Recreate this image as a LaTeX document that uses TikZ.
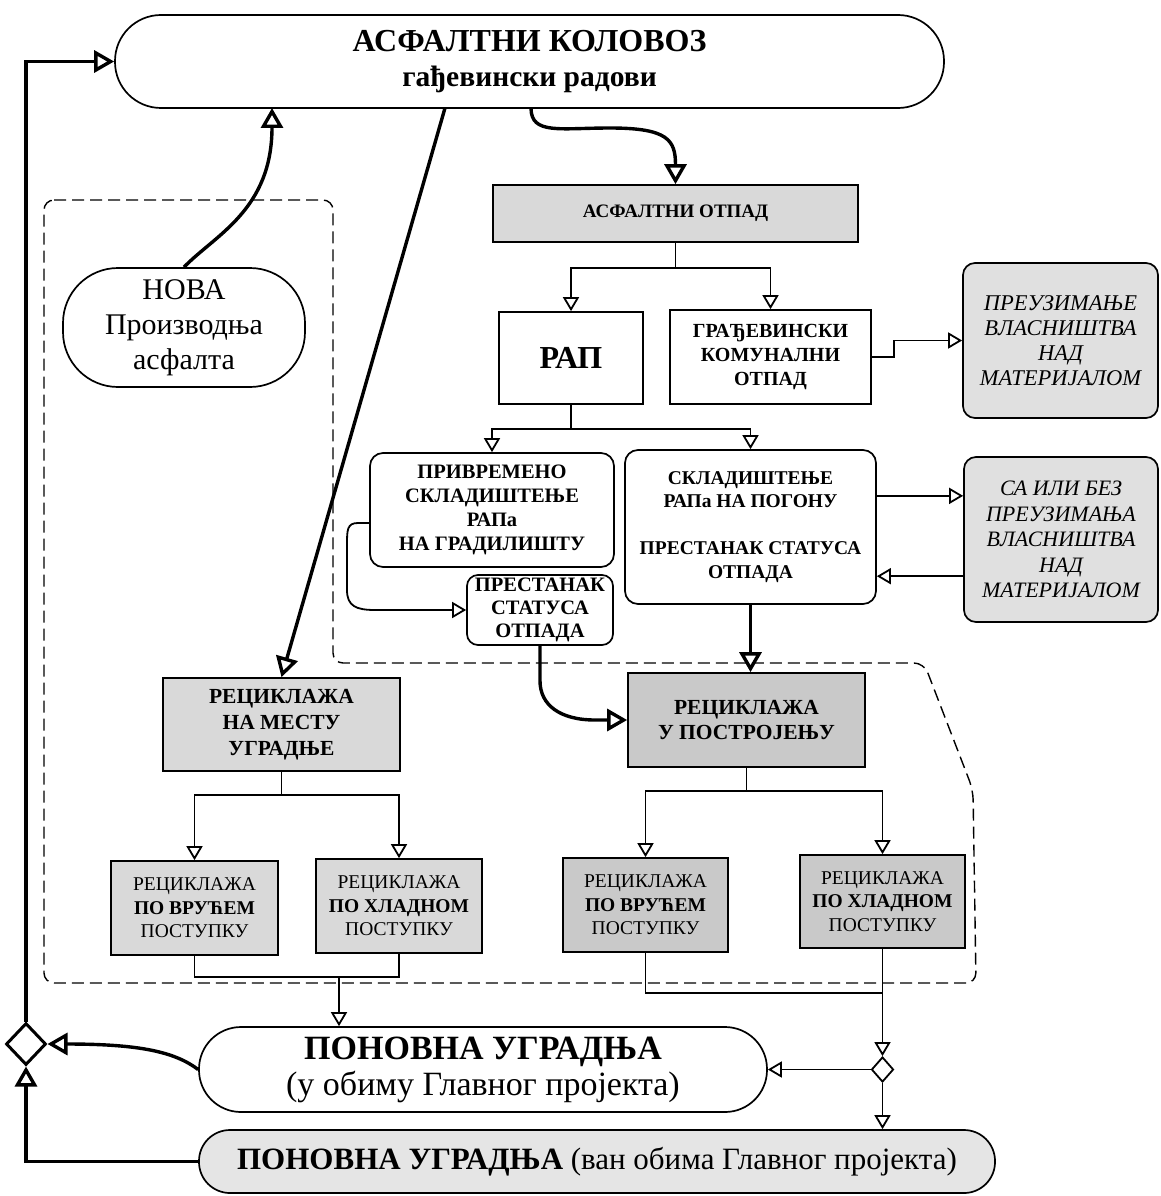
\documentclass[tikz,border=0pt]{standalone}
\usepackage{fontspec}
\setmainfont{Liberation Serif}
\usetikzlibrary{arrows.meta,shapes.geometric,calc}
\newcommand\myfs[2]{\fontsize{#1pt}{#2pt}\selectfont}
\definecolor{g1}{gray}{0.85}
\definecolor{g2}{gray}{0.79}
\definecolor{g3}{gray}{0.88}
\definecolor{g4}{gray}{0.90}
\begin{document}
\begin{tikzpicture}[x=1pt,y=-1pt,
  every node/.style={inner sep=0pt, align=center},
  bx/.style={draw, line width=1.7pt},
  rbx/.style={bx, rounded corners=13pt},
  tl/.style={line width=1.8pt},
  ta/.style={line width=1.8pt, -{Triangle[open,length=14pt,width=16pt]}},
  ka/.style={line width=3.4pt, -{Triangle[open,length=20pt,width=22pt]}},
  dsh/.style={line width=1.4pt, dash pattern=on 12pt off 6pt, rounded corners=10pt},
  smallbox/.style={bx, font=\myfs{19.5}{23.5}}
]
\useasboundingbox (0,0) rectangle (1160,1196);
\fill[white] (0,0) rectangle (1160,1196);

% dashed region
\draw[dsh] (44,200) -- (333,200) -- (333,663) -- (924,663) -- (973,790) -- (976,983) -- (44,983) -- cycle;

% nodes
\node[bx, rounded corners=46pt, minimum width=829pt, minimum height=93pt, font=\myfs{32}{35}\bfseries] (top) at (529.5,61.5)
  {АСФАЛТНИ КОЛОВОЗ\\{\myfs{29.5}{35}гађевински радови}};
\node[bx, rounded corners=55pt, minimum width=242pt, minimum height=119pt, font=\myfs{30}{35}] (nova) at (184,327.5)
  {НОВА\\Производња\\асфалта};
\node[bx, fill=g1, minimum width=365pt, minimum height=57pt, font=\myfs{19}{22}\bfseries] (otpad) at (675.5,213.5)
  {АСФАЛТНИ ОТПАД};
\node[bx, minimum width=144pt, minimum height=92pt, font=\myfs{32}{36}\bfseries] (rap) at (571,358)
  {РАП};
\node[bx, minimum width=201pt, minimum height=94pt, font=\myfs{20}{24}\bfseries] (grad) at (770.5,357)
  {ГРАЂЕВИНСКИ\\КОМУНАЛНИ\\ОТПАД};
\node[bx, rounded corners=12pt, fill=g3, minimum width=195pt, minimum height=155pt, font=\myfs{22.5}{25}\itshape] (preuz) at (1060.5,340.5)
  {ПРЕУЗИМАЊЕ\\ВЛАСНИШТВА\\НАД\\МАТЕРИЈАЛОМ};
\node[rbx, minimum width=244pt, minimum height=114pt, font=\myfs{20.5}{24}\bfseries] (priv) at (492,510)
  {ПРИВРЕМЕНО\\СКЛАДИШТЕЊЕ\\РАПа\\НА ГРАДИЛИШТУ};
\node[rbx, minimum width=251pt, minimum height=154pt, font=\myfs{19.5}{23.5}\bfseries] (sklad) at (750.5,527)
  {СКЛАДИШТЕЊЕ\\РАПа НА ПОГОНУ\\[23.5pt]ПРЕСТАНАК СТАТУСА\\ОТПАДА};
\node[bx, rounded corners=12pt, fill=g3, minimum width=194pt, minimum height=165pt, font=\myfs{22}{25.5}\itshape] (sa) at (1061,539.5)
  {СА ИЛИ БЕЗ\\ПРЕУЗИМАЊА\\ВЛАСНИШТВА\\НАД\\МАТЕРИЈАЛОМ};
\node[bx, rounded corners=11pt, minimum width=146pt, minimum height=70pt, font=\myfs{20.5}{23}\bfseries] (prest) at (540,610)
  {ПРЕСТАНАК\\СТАТУСА\\ОТПАДА};
\node[bx, fill=g1, minimum width=237pt, minimum height=93pt, font=\myfs{21.5}{26}\bfseries] (recm) at (281.5,724.5)
  {РЕЦИКЛАЖА\\НА МЕСТУ\\УГРАДЊЕ};
\node[bx, fill=g2, minimum width=237pt, minimum height=94pt, font=\myfs{21.5}{25}\bfseries] (recu) at (746.5,720)
  {РЕЦИКЛАЖА\\У ПОСТРОЈЕЊУ};
\node[smallbox, fill=g1, minimum width=167pt, minimum height=94pt] (lh) at (194.5,908)
  {РЕЦИКЛАЖА\\\textbf{ПО ВРУЋЕМ}\\ПОСТУПКУ};
\node[smallbox, fill=g1, minimum width=166pt, minimum height=94pt] (lc) at (399,906)
  {РЕЦИКЛАЖА\\\textbf{ПО ХЛАДНОМ}\\ПОСТУПКУ};
\node[smallbox, fill=g2, minimum width=165pt, minimum height=94pt] (rh) at (645.5,905)
  {РЕЦИКЛАЖА\\\textbf{ПО ВРУЋЕМ}\\ПОСТУПКУ};
\node[smallbox, fill=g2, minimum width=165pt, minimum height=93pt] (rc) at (882.5,901.5)
  {РЕЦИКЛАЖА\\\textbf{ПО ХЛАДНОМ}\\ПОСТУПКУ};
\node[bx, rounded corners=42pt, minimum width=568pt, minimum height=85pt, font=\myfs{34}{36}] (pon) at (483,1069.5)
  {\textbf{ПОНОВНА УГРАДЊА}\\(у обиму Главног пројекта)};
\node[bx, rounded corners=31pt, fill=g4, minimum width=796pt, minimum height=63pt, font=\myfs{31}{36}] (van) at (597,1161.5)
  {\textbf{ПОНОВНА УГРАДЊА} (ван обима Главног пројекта)};
\node[draw, diamond, line width=3pt, minimum width=40pt, minimum height=42pt] (dl) at (26,1044) {};
\node[draw, diamond, line width=1.8pt, minimum width=22pt, minimum height=25pt] (dr) at (882.5,1069.5) {};

% thick connectors
\coordinate (novain) at (272,108);
\draw[ka] (nova.north) .. controls (215,235) and (272,210) .. (novain);
\coordinate (otout) at (531,108);
\draw[ka] (otout) .. controls (531,135) and (560,128) .. (610,128) .. controls (668,128) and (675.5,140) .. (otpad.north);
\coordinate (dgout) at (445,108);
\draw[ka] (dgout) -- (recm.north);
\draw[ka] (dl.north) |- (top.west);
\draw[ka] (pon.west) .. controls (175,1052) and (140,1044) .. (dl.east);
\draw[ka] (van.west) -| (dl.south);
\draw[ka] (prest.south) -- ++(0,35) .. controls (540,705) and (560,720) .. (595,720) -- (recu.west);
\draw[ka] (sklad.south) -- (sklad.south |- recu.north);

% thin connectors
\draw[tl] (otpad.south) -- ++(0,25) coordinate (b1);
\draw[ta] (b1) -| (rap.north);
\draw[ta] (b1) -| (grad.north);
\draw[tl] (rap.south) -- ++(0,24) coordinate (b2);
\draw[ta] (b2) -| (priv.north);
\draw[ta] (b2) -| (sklad.north);
\draw[ta] (grad.east) -- ++(22,0) |- (preuz.west);
\coordinate (s1) at ($(sklad.north east)!0.3!(sklad.south east)$);
\draw[ta] (s1) -- (s1 -| sa.west);
\coordinate (s2) at ($(sa.north west)!0.72!(sa.south west)$);
\draw[ta] (s2) -- (s2 -| sklad.east);
\coordinate (pv1) at (370,523);
\draw[ta] (pv1) -- (358,523) .. controls (347,523) and (347,530) .. (347,545) -- (347,590) .. controls (347,606) and (356,610) .. (375,610) -- (prest.west);
\draw[tl] (recm.south) -- ++(0,23) coordinate (b3);
\draw[ta] (b3) -| (lh.north);
\draw[ta] (b3) -| (lc.north);
\draw[tl] (recu.south) -- ++(0,23) coordinate (b4);
\draw[ta] (b4) -| (rh.north);
\draw[ta] (b4) -| (rc.north);
\draw[tl] (lh.south) -- ++(0,21) -| (lc.south);
\coordinate (m1) at (339,976);
\draw[ta] (m1) -- (m1 |- pon.north);
\draw[tl] (rh.south) -- ++(0,40) -| (rc.south);
\draw[ta] (rc.south) -- (dr.north);
\draw[ta] (dr.west) -- (pon.east);
\draw[ta] (dr.south) -- (dr.south |- van.north);
\end{tikzpicture}
\end{document}
